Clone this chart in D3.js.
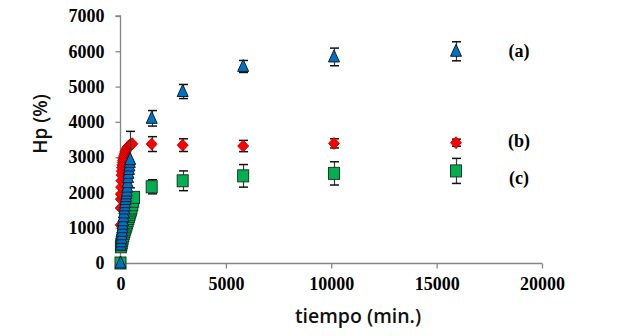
<!DOCTYPE html>
<html><head><meta charset="utf-8">
<script src="https://cdn.jsdelivr.net/npm/d3@7/dist/d3.min.js"></script>
<style>
html,body{margin:0;padding:0;background:#fff;}
svg{display:block;}
</style></head>
<body>
<svg id="c" width="638" height="336"></svg>
<script>
// ---- data ----
const xTicks = [0, 5000, 10000, 15000, 20000];
const yTicks = [0, 1000, 2000, 3000, 4000, 5000, 6000, 7000];
const seriesLabels = ["(a)", "(b)", "(c)"];
const labelValues = [6000, 3450, 2400];

// (a) blue triangles
const timeA = [0, 15, 30, 45, 60, 75, 90, 105, 120, 140, 160, 180, 200, 220, 240, 260, 280, 300, 320, 340, 360, 380, 400, 420, 440, 460, 1480, 2950, 5820, 10130, 15920];
const valA  = [0, 510, 600, 700, 800, 900, 1000, 1100, 1200, 1310, 1420, 1530, 1620, 1710, 1800, 1880, 1960, 2040, 2150, 2280, 2420, 2540, 2650, 2750, 2850, 2930, 4100, 4860, 5570, 5840, 6000];
const errA  = [0, 0, 0, 0, 0, 80, 0, 0, 100, 0, 0, 0, 0, 0, 0, 0, 0, 0, 0, 0, 0, 0, 0, 0, 0, 800, 220, 200, 170, 250, 270];

// (b) red diamonds
const timeB = [5, 10, 15, 20, 30, 40, 50, 60, 75, 90, 105, 120, 140, 160, 180, 210, 240, 270, 300, 330, 360, 400, 440, 480, 520, 560, 1480, 2950, 5820, 10130, 15920];
const valB  = [1080, 1560, 1810, 1950, 2150, 2330, 2490, 2600, 2700, 2780, 2850, 2910, 2960, 3000, 3050, 3110, 3160, 3200, 3240, 3270, 3300, 3320, 3340, 3350, 3360, 3380, 3370, 3340, 3315, 3390, 3410];
const errB  = [0, 0, 0, 0, 0, 0, 0, 0, 0, 0, 0, 0, 0, 0, 0, 0, 0, 0, 0, 0, 0, 0, 0, 0, 0, 0, 210, 180, 160, 130, 100];

// (c) green squares
const timeC = [0, 20, 40, 60, 80, 100, 130, 160, 190, 220, 250, 280, 310, 340, 370, 400, 430, 460, 490, 520, 560, 600, 640, 1480, 2950, 5820, 10130, 15920];
const valC  = [0, 460, 520, 580, 640, 700, 770, 840, 900, 960, 1020, 1080, 1140, 1200, 1260, 1320, 1380, 1440, 1500, 1560, 1650, 1750, 1860, 2160, 2330, 2470, 2540, 2610];
const errC  = [0, 0, 0, 0, 0, 0, 0, 0, 0, 0, 0, 0, 0, 0, 0, 0, 0, 0, 0, 0, 0, 0, 0, 200, 280, 320, 330, 355];

// ---- chart ----
const svg = d3.select("#c");
const x = d3.scaleLinear().domain([0, 20000]).range([120.5, 542]);
const y = d3.scaleLinear().domain([0, 7000]).range([263, 16]);
const axisColor = "#868686";
const tickFont = "'Liberation Serif','Times New Roman',serif";

// y axis
const gy = svg.append("g").attr("transform", "translate(120.5,0)")
  .call(d3.axisLeft(y).tickValues(yTicks).tickSize(5).tickPadding(11).tickFormat(d3.format("d")));
// x axis
const gx = svg.append("g").attr("transform", "translate(0,263.5)")
  .call(d3.axisBottom(x).tickValues(xTicks).tickSize(5).tickPadding(9).tickFormat(d3.format("d")));
[gx, gy].forEach(g => {
  g.select(".domain").attr("stroke", axisColor).attr("stroke-width", 1.3);
  g.selectAll(".tick line").attr("stroke", axisColor).attr("stroke-width", 1.3);
  g.selectAll(".tick text").attr("fill", "#000").style("font-family", tickFont)
    .style("font-weight", "bold").style("font-size", "18px");
});
gy.select(".domain").attr("d", `M-5,${y(7000)}H0V${y(0)}`);
gx.select(".domain").attr("d", `M${x(0)},0H${x(20000)}`);

// axis titles
const titleFont = "'Open Sans','Noto Sans',sans-serif";
svg.append("text").attr("x", 358).attr("y", 323)
  .attr("text-anchor", "middle").style("font-family", titleFont).style("font-weight", "600")
  .style("font-size", "19.5px").attr("fill", "#111").text("tiempo (min.)");
svg.append("text").attr("transform", "translate(47,124) rotate(-90)")
  .attr("text-anchor", "middle").style("font-family", titleFont).style("font-weight", "600")
  .style("font-size", "19px").attr("fill", "#111").text("Hp (%)");

// series
const series = [
  {t: timeB, v: valB, e: errB, shape: "diamond", fill: "#FF0000", stroke: "#B00000"},
  {t: timeC, v: valC, e: errC, shape: "square", fill: "#00B050", stroke: "#1a3a22"},
  {t: timeA, v: valA, e: errA, shape: "triangle", fill: "#0070C0", stroke: "#0d1f33"}
];
const errColor = "#3a3a3a";
series.forEach(s => {
  const pts = s.t.map((t, i) => ({t, v: s.v[i], e: s.e[i]}));
  const eg = svg.append("g");
  pts.filter(p => p.e > 0).forEach(p => {
    const cx = Math.round(x(p.t)) + 0.5;
    eg.append("line").attr("x1", cx).attr("x2", cx).attr("y1", y(p.v + p.e)).attr("y2", y(p.v - p.e))
      .attr("stroke", errColor).attr("stroke-width", 1.2);
    [p.v + p.e, p.v - p.e].forEach(val => {
      eg.append("line").attr("x1", cx - 4.5).attr("x2", cx + 4.5).attr("y1", y(val)).attr("y2", y(val))
        .attr("stroke", "#111").attr("stroke-width", 1.5);
    });
  });
  const mg = svg.append("g");
  pts.forEach(p => {
    const cx = x(p.t), cy = y(p.v);
    if (s.shape === "diamond") {
      mg.append("path").attr("d", `M${cx},${cy-6}L${cx+5.5},${cy}L${cx},${cy+6}L${cx-5.5},${cy}Z`)
        .attr("fill", s.fill).attr("stroke", s.stroke).attr("stroke-width", 0.8);
    } else if (s.shape === "square") {
      mg.append("rect").attr("x", cx - 5.5).attr("y", cy - 6).attr("width", 11).attr("height", 12)
        .attr("fill", s.fill).attr("stroke", s.stroke).attr("stroke-width", 1);
    } else {
      mg.append("path").attr("d", `M${cx},${cy-7}L${cx+5.5},${cy+5}L${cx-5.5},${cy+5}Z`)
        .attr("fill", s.fill).attr("stroke", s.stroke).attr("stroke-width", 1);
    }
  });
});

// series labels
seriesLabels.forEach((lab, i) => {
  svg.append("text").attr("x", 519).attr("y", y(labelValues[i]) + 6)
    .attr("text-anchor", "middle").style("font-family", tickFont).style("font-weight", "bold")
    .style("font-size", "18px").attr("fill", "#000").text(lab);
});
</script>
</body></html>
